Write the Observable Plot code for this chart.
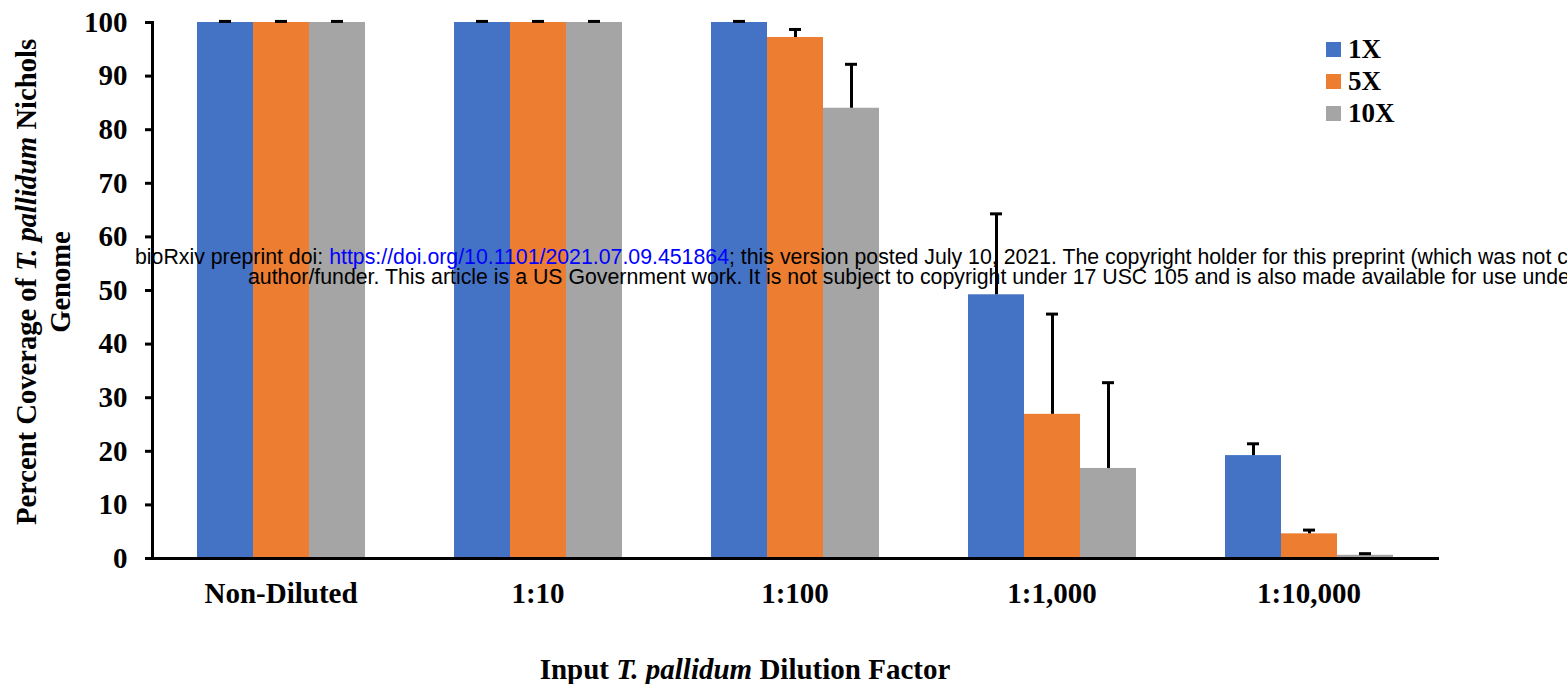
<!DOCTYPE html>
<html><head><meta charset="utf-8">
<script src="https://cdn.jsdelivr.net/npm/d3@7"></script>
<script src="https://cdn.jsdelivr.net/npm/@observablehq/plot@0.6"></script>
<style>
html,body{margin:0;padding:0;background:#fff;}
body{width:1567px;height:684px;overflow:hidden;position:relative;font-family:"Liberation Serif","Times New Roman",serif;color:#000;}
#chart{position:absolute;left:0;top:0;}
.ylab{position:absolute;left:-256px;top:248px;width:600px;height:68px;line-height:34px;text-align:center;font-size:28.6px;font-weight:bold;transform:rotate(-90deg);white-space:nowrap;}
.xlab{position:absolute;left:0;width:1490px;top:655px;text-align:center;font-size:29px;font-weight:bold;white-space:nowrap;line-height:29px;}
.legend{position:absolute;left:1326px;top:33px;font-size:27px;font-weight:bold;}
.legend .row{height:32px;line-height:32px;display:flex;align-items:center;white-space:nowrap;}
.legend .sw{width:15px;height:15px;display:inline-block;margin-right:7px;}
.wm{position:absolute;font-family:"Liberation Sans",Arial,sans-serif;font-size:21.3px;line-height:20px;white-space:nowrap;color:#000;}
.wm a{color:#0000ff;text-decoration:none;}
</style></head><body>
<div id="chart"></div>
<div class="ylab">Percent Coverage of <i>T. pallidum</i> Nichols<br>Genome</div>
<div class="xlab">Input <i>T. pallidum</i> Dilution Factor</div>
<div class="legend" id="legend"></div>
<div class="wm" style="left:135px;top:247px;">bioRxiv preprint doi: <a>https://doi.org/10.1101/2021.07.09.451864</a>; this version posted July 10, 2021. The copyright holder for this preprint (which was not certified by peer review) is the</div>
<div class="wm" style="left:248px;top:267px;">author/funder. This article is a US Government work. It is not subject to copyright under 17 USC 105 and is also made available for use under a CC0 license.</div>
<script>
const categories = ["Non-Diluted", "1:10", "1:100", "1:1,000", "1:10,000"];
const series = ["1X", "5X", "10X"];
const colors = ["#4472C4", "#ED7D31", "#A5A5A5"];
const cov1X = [100, 100, 100, 49.2, 19.2];
const cov5X = [100, 100, 97.2, 26.9, 4.6];
const cov10X = [100, 100, 84.0, 16.8, 0.6];
const err1X = [0.2, 0.2, 0.2, 15.1, 2.2];
const err5X = [0.2, 0.2, 1.5, 18.7, 0.7];
const err10X = [0.2, 0.2, 8.2, 16.0, 0.3];
const yTicks = [0, 10, 20, 30, 40, 50, 60, 70, 80, 90, 100];

const covs = [cov1X, cov5X, cov10X];
const errs = [err1X, err5X, err10X];
const data = [];
categories.forEach((c, i) => {
  series.forEach((s, j) => {
    data.push({category: c, series: s, value: covs[j][i], err: errs[j][i]});
  });
});

const chart = Plot.plot({
  width: 1567,
  height: 684,
  marginLeft: 152,
  marginRight: 130,
  marginTop: 22,
  marginBottom: 126,
  style: {fontFamily: "Liberation Serif", fontSize: "29px", fontWeight: "bold", color: "#000", background: "#fff", overflow: "visible"},
  fx: {domain: categories, paddingInner: 0, paddingOuter: 0, label: null},
  x: {domain: series, paddingInner: 0, paddingOuter: 0.7544, axis: null},
  y: {domain: [0, 100], label: null},
  color: {domain: series, range: colors},
  marks: [
    Plot.barY(data, {fx: "category", x: "series", y: "value", fill: "series"}),
    Plot.ruleX(data, {fx: "category", x: "series", y1: "value", y2: d => d.value + d.err, stroke: "#000", strokeWidth: 3}),
    Plot.tickY(data, {fx: "category", x: "series", y: d => d.value + d.err, stroke: "#000", strokeWidth: 3, inset: 22}),
    Plot.axisY({ticks: yTicks, tickSize: 7, tickPadding: 18, strokeWidth: 3, label: null, anchor: "left", fill: "#000"}),
    Plot.axisFx({anchor: "bottom", tickSize: 0, tickPadding: 24, label: null, fill: "#000"}),
    Plot.frame({anchor: "left", facet: "super", stroke: "#000", strokeWidth: 3}),
    Plot.frame({anchor: "bottom", facet: "super", stroke: "#000", strokeWidth: 3})
  ]
});
document.getElementById("chart").appendChild(chart);

const legend = document.getElementById("legend");
series.forEach((s, j) => {
  const row = document.createElement("div");
  row.className = "row";
  const sw = document.createElement("span");
  sw.className = "sw";
  sw.style.background = colors[j];
  row.appendChild(sw);
  row.appendChild(document.createTextNode(s));
  legend.appendChild(row);
});
</script>
</body></html>
